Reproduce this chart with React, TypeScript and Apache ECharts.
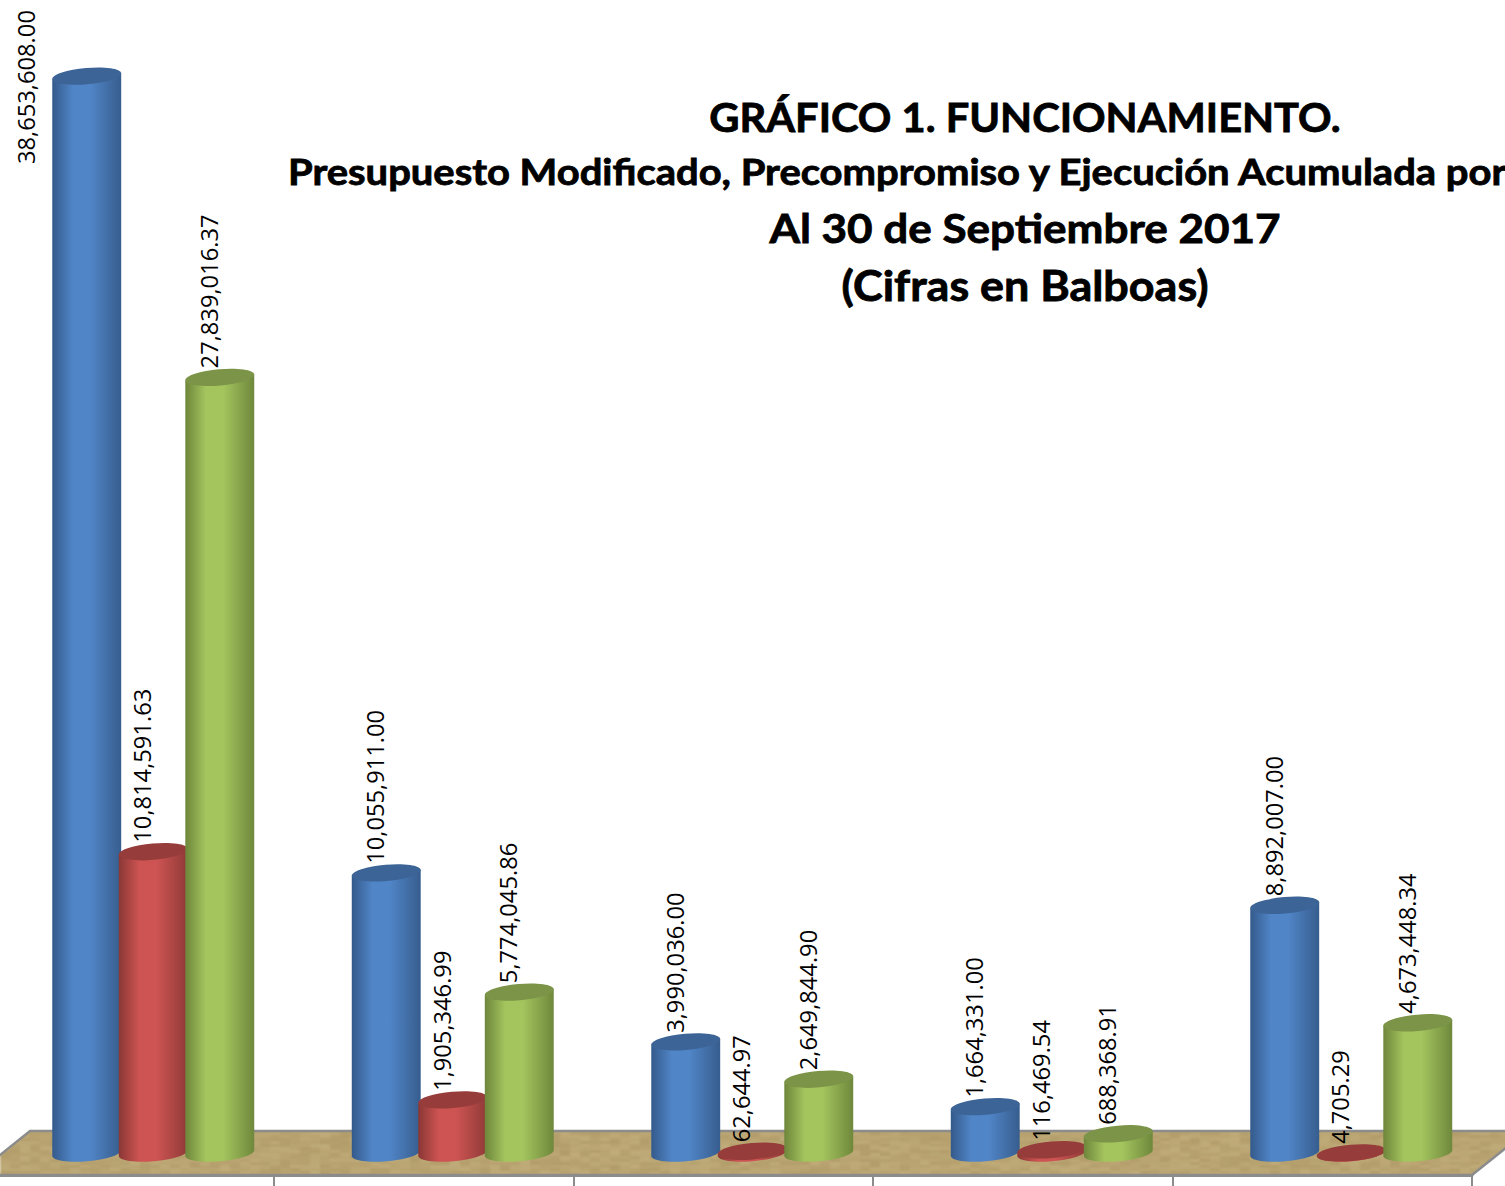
import React, { useEffect, useRef } from "react";
import * as echarts from "echarts";

const categories = ["1", "2", "3", "4", "5"];
const presupuesto = [38653608.0, 10055911.0, 3990036.0, 1664331.0, 8892007.0];
const precompromiso = [10814591.63, 1905346.99, 62644.97, 116469.54, 4705.29];
const ejecucion = [27839016.37, 5774045.86, 2649844.9, 688368.91, 4673448.34];
const titleLines = [
  "GRÁFICO 1. FUNCIONAMIENTO.",
  "Presupuesto Modificado, Precompromiso y Ejecución Acumulada por",
  "Al 30 de Septiembre 2017",
  "(Cifras en Balboas)",
];

const W = 1505;
const H = 1186;
const LABEL_FONT = '23.7px "Open Sans"';

function fmt(v: number) {
  return v.toLocaleString("en-US", { minimumFractionDigits: 2, maximumFractionDigits: 2 });
}

// one tile as large as the page, so that the floor shows no repeat seams
function floorTexture() {
  const raw = document.createElement("canvas");
  raw.width = W + 60;
  raw.height = H;
  const r = raw.getContext("2d")!;
  r.fillStyle = "#baa572";
  r.fillRect(0, 0, raw.width, raw.height);
  let h = 12345;
  for (let y = 1120; y < raw.height; y += 3) {
    for (let x = 0; x < raw.width; x += 10) {
      h = (h * 1103515245 + 12421) & 0x7fffffff;
      const a = ((h >> 8) % 100) / 100;
      r.fillStyle = a > 0.5 ? `rgba(212,194,150,${(a - 0.5) * 0.45})` : `rgba(150,128,80,${(0.5 - a) * 0.45})`;
      r.fillRect(x, y, 10, 3);
    }
  }
  const c = document.createElement("canvas");
  c.width = raw.width;
  c.height = raw.height;
  const ctx = c.getContext("2d")!;
  ctx.filter = "blur(1.2px)";
  ctx.drawImage(raw, 0, 0);
  return c;
}

type Palette = { edge: string; mid: string; edgeR: string; top: string };

// cubic segments for part of a tilted ellipse, from angle a0 to a1
function ellipseSegs(cx: number, cy: number, rx: number, ry: number, t: number, a0: number, a1: number, n: number) {
  const cos = Math.cos(t);
  const sin = Math.sin(t);
  const p = (a: number) => {
    const x = rx * Math.cos(a);
    const y = ry * Math.sin(a);
    return [cx + x * cos - y * sin, cy + x * sin + y * cos];
  };
  const d = (a: number) => {
    const x = -rx * Math.sin(a);
    const y = ry * Math.cos(a);
    return [x * cos - y * sin, x * sin + y * cos];
  };
  const step = (a1 - a0) / n;
  const k = (4 / 3) * Math.tan(step / 4);
  let s = "";
  for (let i = 0; i < n; i++) {
    const u = a0 + i * step;
    const v = u + step;
    const P0 = p(u);
    const P1 = p(v);
    const D0 = d(u);
    const D1 = d(v);
    s += `C${P0[0] + k * D0[0]} ${P0[1] + k * D0[1]} ${P1[0] - k * D1[0]} ${P1[1] - k * D1[1]} ${P1[0]} ${P1[1]} `;
  }
  return s;
}

function cylinderItem(offset: number, pal: Palette) {
  return (params: any, api: any) => {
    const band = api.size([1, 0])[0];
    const idx = api.value(0);
    const val = api.value(1);
    const topPt = api.coord([idx, val]);
    const basePt = api.coord([idx, 0]);
    const cx = topPt[0] + offset * band;
    const yT = topPt[1];
    const yB = basePt[1];
    const rx = band * 0.1155;
    const ry = 8.2;
    const t = (-5 * Math.PI) / 180;
    const dx = rx * Math.cos(t);
    const dy = rx * Math.sin(t);
    const body =
      `M${cx - dx} ${yT - dy} L${cx - dx} ${yB - dy} ` +
      ellipseSegs(cx, yB, rx, ry, t, Math.PI, 0, 4) +
      `L${cx + dx} ${yT + dy} Z`;
    const cap =
      `M${cx - dx} ${yT - dy} ` +
      ellipseSegs(cx, yT, rx, ry, t, Math.PI, -Math.PI, 8) +
      "Z";
    const clamped = yT - 10 - 154 < 0;
    const lx = clamped ? cx - 61 : cx - 11;
    const ly = clamped ? 164 : yT - 9;
    return {
      type: "group",
      children: [
        {
          type: "path",
          shape: { pathData: body },
          style: {
            fill: new echarts.graphic.LinearGradient(0, 0, 1, 0, [
              { offset: 0, color: pal.edge },
              { offset: 0.3, color: pal.mid },
              { offset: 0.55, color: pal.mid },
              { offset: 1, color: pal.edgeR },
            ]),
          },
        },
        { type: "path", shape: { pathData: cap }, style: { fill: pal.top } },
        {
          type: "text",
          x: lx,
          y: ly,
          rotation: Math.PI / 2,
          z2: 10,
          style: {
            text: fmt(val),
            x: 0,
            y: 0,
            font: LABEL_FONT,
            fill: "#000000",
            align: "left",
            verticalAlign: "middle",
          },
        },
      ],
    };
  };
}

function titleText(text: string, x: number, y: number, size: number, scaleX: number, align: string) {
  return {
    type: "text",
    x,
    y,
    scaleX,
    z: 20,
    silent: true,
    style: {
      text,
      x: 0,
      y: 0,
      font: `bold ${size}px Lato`,
      fill: "#000000",
      stroke: "#000000",
      lineWidth: 0.8,
      align,
      verticalAlign: "middle",
    },
  };
}

export default function App() {
  const ref = useRef<HTMLDivElement>(null);
  useEffect(() => {
    document.body.style.margin = "0";
    document.body.style.overflow = "hidden";
    const chart = echarts.init(ref.current!, null, { renderer: "svg" });
    const toData = (a: number[]) => a.map((v, i) => [i, v]);
    const mk = (name: string, vals: number[], offset: number, pal: Palette) => ({
      name,
      type: "custom",
      xAxisIndex: 0,
      yAxisIndex: 0,
      coordinateSystem: "cartesian2d",
      data: toData(vals),
      encode: { x: 0, y: 1 },
      renderItem: cylinderItem(offset, pal),
      silent: true,
    });
    chart.setOption({
      animation: false,
      backgroundColor: "#ffffff",
      grid: [
        { left: 3.5, width: 1497.5, top: 38.6, height: 1114.4, outerBoundsMode: "none" },
        { left: -25.5, width: 1497.5, top: 1100, height: 75, outerBoundsMode: "none" },
      ],
      xAxis: [
        { gridIndex: 0, type: "category", data: categories, show: false },
        {
          gridIndex: 1,
          type: "category",
          data: categories,
          axisLine: { show: true, lineStyle: { color: "#8c8c8c", width: 3 } },
          axisTick: { show: true, length: 11, lineStyle: { color: "#8c8c8c", width: 2 } },
          axisLabel: { show: false },
        },
      ],
      yAxis: [
        { gridIndex: 0, type: "value", min: 0, max: 40000000, show: false },
        { gridIndex: 1, type: "value", min: 0, max: 1, show: false },
      ],
      graphic: [
        {
          type: "polygon",
          z: -10,
          silent: true,
          shape: {
            points: [
              [30, 1131],
              [1527, 1131],
              [1472, 1175],
              [-25, 1175],
            ],
          },
          style: {
            fill: { image: floorTexture(), repeat: "repeat" },
            stroke: "#8c8c8c",
            lineWidth: 2.5,
          },
        },
        titleText(titleLines[0], 1025, 117, 40, 1.04, "center"),
        titleText(titleLines[1], 288, 171, 36, 1.11, "left"),
        titleText(titleLines[2], 1025, 227, 41, 1.074, "center"),
        titleText(titleLines[3], 1025, 285, 41, 1.095, "center"),
      ],
      series: [
        mk("Presupuesto Modificado", presupuesto, -0.2221, {
          edge: "#345a8b",
          mid: "#5085c7",
          edgeR: "#375d8e",
          top: "#3d6496",
        }),
        mk("Precompromiso", precompromiso, 0, {
          edge: "#8a3735",
          mid: "#cd5452",
          edgeR: "#8f3a38",
          top: "#963c3a",
        }),
        mk("Ejecución Acumulada", ejecucion, 0.2221, {
          edge: "#6e863b",
          mid: "#a4c55e",
          edgeR: "#6f883c",
          top: "#7b9448",
        }),
      ],
    });
    return () => chart.dispose();
  }, []);
  return <div ref={ref} style={{ width: W, height: H, position: "absolute", left: 0, top: 0 }} />;
}
